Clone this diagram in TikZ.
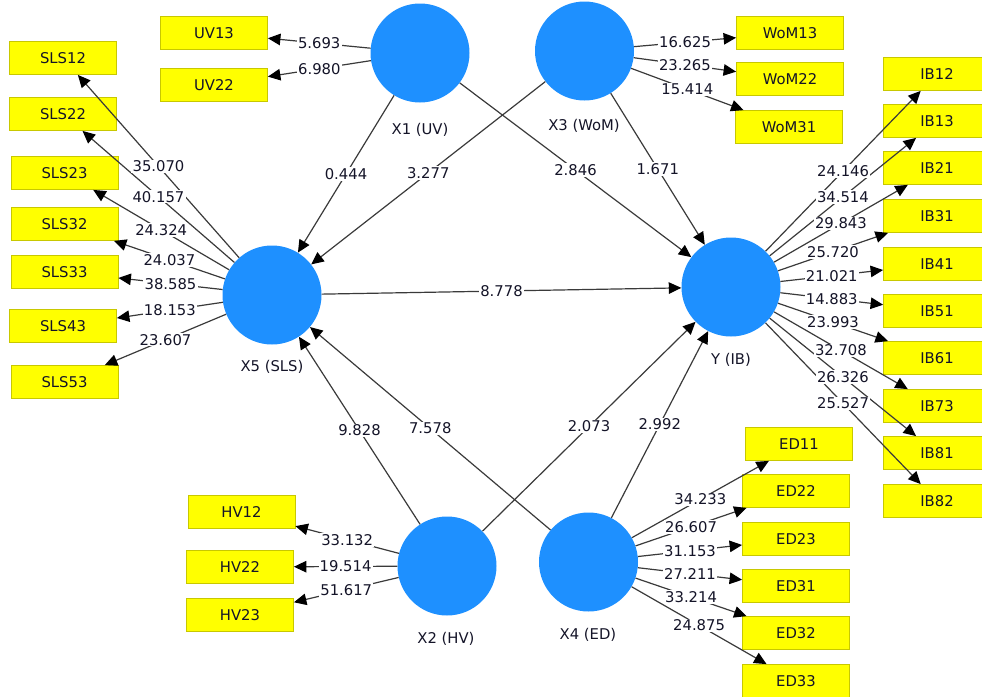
\documentclass[tikz,border=0pt]{standalone}
\usepackage{fontspec}
\setmainfont{DejaVu Sans}
\usetikzlibrary{arrows.meta}
\definecolor{plsblue}{HTML}{1E90FF}
\definecolor{boxyellow}{HTML}{FFFF00}
\definecolor{boxedge}{HTML}{C8C800}
\definecolor{linec}{HTML}{3A3A3A}
\definecolor{txtc}{HTML}{141428}
\begin{document}
\begin{tikzpicture}[x=1pt,y=-1pt,
  every node/.style={font=\fontsize{14.8}{17}\selectfont, text=txtc},
  lv/.style={circle, fill=plsblue, minimum size=99pt, inner sep=0pt},
  mv/.style={rectangle, fill=boxyellow, draw=boxedge, line width=0.8pt, minimum width=107pt, minimum height=33pt, inner sep=0pt},
  lvname/.style={inner sep=0pt},
  lbl/.style={fill=white, inner sep=1.2pt},
  arr/.style={draw=linec, line width=1.2pt, -{Triangle[length=12.5pt,width=11.5pt,color=black]}}]
\useasboundingbox (0,0) rectangle (982,696);
% latent variables
\node[lv] (x1) at (420,53) {};
\node[lv] (x3) at (584.5,51) {};
\node[lv] (x5) at (272,295) {};
\node[lv] (lvy) at (731,287) {};
\node[lv] (x2) at (447,566) {};
\node[lv] (x4) at (588.5,562) {};
\node[lvname] (n1) at (420,130) {X1 (UV)};
\node[lvname] (n3) at (584,126) {X3 (WoM)};
\node[lvname] (n5) at (272,367) {X5 (SLS)};
\node[lvname] (ny) at (731,360) {Y (IB)};
\node[lvname] (n2) at (446,639) {X2 (HV)};
\node[lvname] (n4) at (588,635) {X4 (ED)};
% indicators
\node[mv] (uv13) at (214,33) {UV13};
\node[mv] (uv22) at (214,85) {UV22};
\node[mv] (sls12) at (63,58) {SLS12};
\node[mv] (sls22) at (63,114) {SLS22};
\node[mv] (sls23) at (64.5,173) {SLS23};
\node[mv] (sls32) at (64.5,224) {SLS32};
\node[mv] (sls33) at (64.5,272) {SLS33};
\node[mv] (sls43) at (63,326) {SLS43};
\node[mv] (sls53) at (64.5,382) {SLS53};
\node[mv] (wom13) at (790,33) {WoM13};
\node[mv] (wom22) at (790,79) {WoM22};
\node[mv] (wom31) at (789,127) {WoM31};
\node[mv] (ib12) at (937,74) {IB12};
\node[mv] (ib13) at (937,121) {IB13};
\node[mv] (ib21) at (937,168) {IB21};
\node[mv] (ib31) at (937,216) {IB31};
\node[mv] (ib41) at (937,264) {IB41};
\node[mv] (ib51) at (937,311) {IB51};
\node[mv] (ib61) at (937,358) {IB61};
\node[mv] (ib73) at (937,406) {IB73};
\node[mv] (ib81) at (937,453) {IB81};
\node[mv] (ib82) at (937,501) {IB82};
\node[mv] (ed11) at (799,444) {ED11};
\node[mv] (ed22) at (796,491) {ED22};
\node[mv] (ed23) at (796,539) {ED23};
\node[mv] (ed31) at (796,586) {ED31};
\node[mv] (ed32) at (796,633) {ED32};
\node[mv] (ed33) at (796,681) {ED33};
\node[mv] (hv12) at (241.5,512) {HV12};
\node[mv] (hv22) at (240,567) {HV22};
\node[mv] (hv23) at (240,615) {HV23};
\def\edges{x1/uv13/5.693, x1/uv22/6.980,
 x3/wom13/16.625, x3/wom22/23.265, x3/wom31/15.414,
 x5/sls12/35.070, x5/sls22/40.157, x5/sls23/24.324, x5/sls32/24.037, x5/sls33/38.585, x5/sls43/18.153, x5/sls53/23.607,
 lvy/ib12/24.146, lvy/ib13/34.514, lvy/ib21/29.843, lvy/ib31/25.720, lvy/ib41/21.021, lvy/ib51/14.883, lvy/ib61/23.993, lvy/ib73/32.708, lvy/ib81/26.326, lvy/ib82/25.527,
 x4/ed11/34.233, x4/ed22/26.607, x4/ed23/31.153, x4/ed31/27.211, x4/ed32/33.214, x4/ed33/24.875,
 x2/hv12/33.132, x2/hv22/19.514, x2/hv23/51.617,
 x1/x5/0.444, x3/x5/3.277, x1/lvy/2.846, x3/lvy/1.671, x5/lvy/8.778,
 x2/x5/9.828, x4/x5/7.578, x2/lvy/2.073, x4/lvy/2.992}
\foreach \s/\t/\v in \edges { \draw[arr] (\s) -- (\t); }
\foreach \s/\t/\v in \edges { \path (\s) -- node[lbl] {\v} (\t); }
\end{tikzpicture}
\end{document}
